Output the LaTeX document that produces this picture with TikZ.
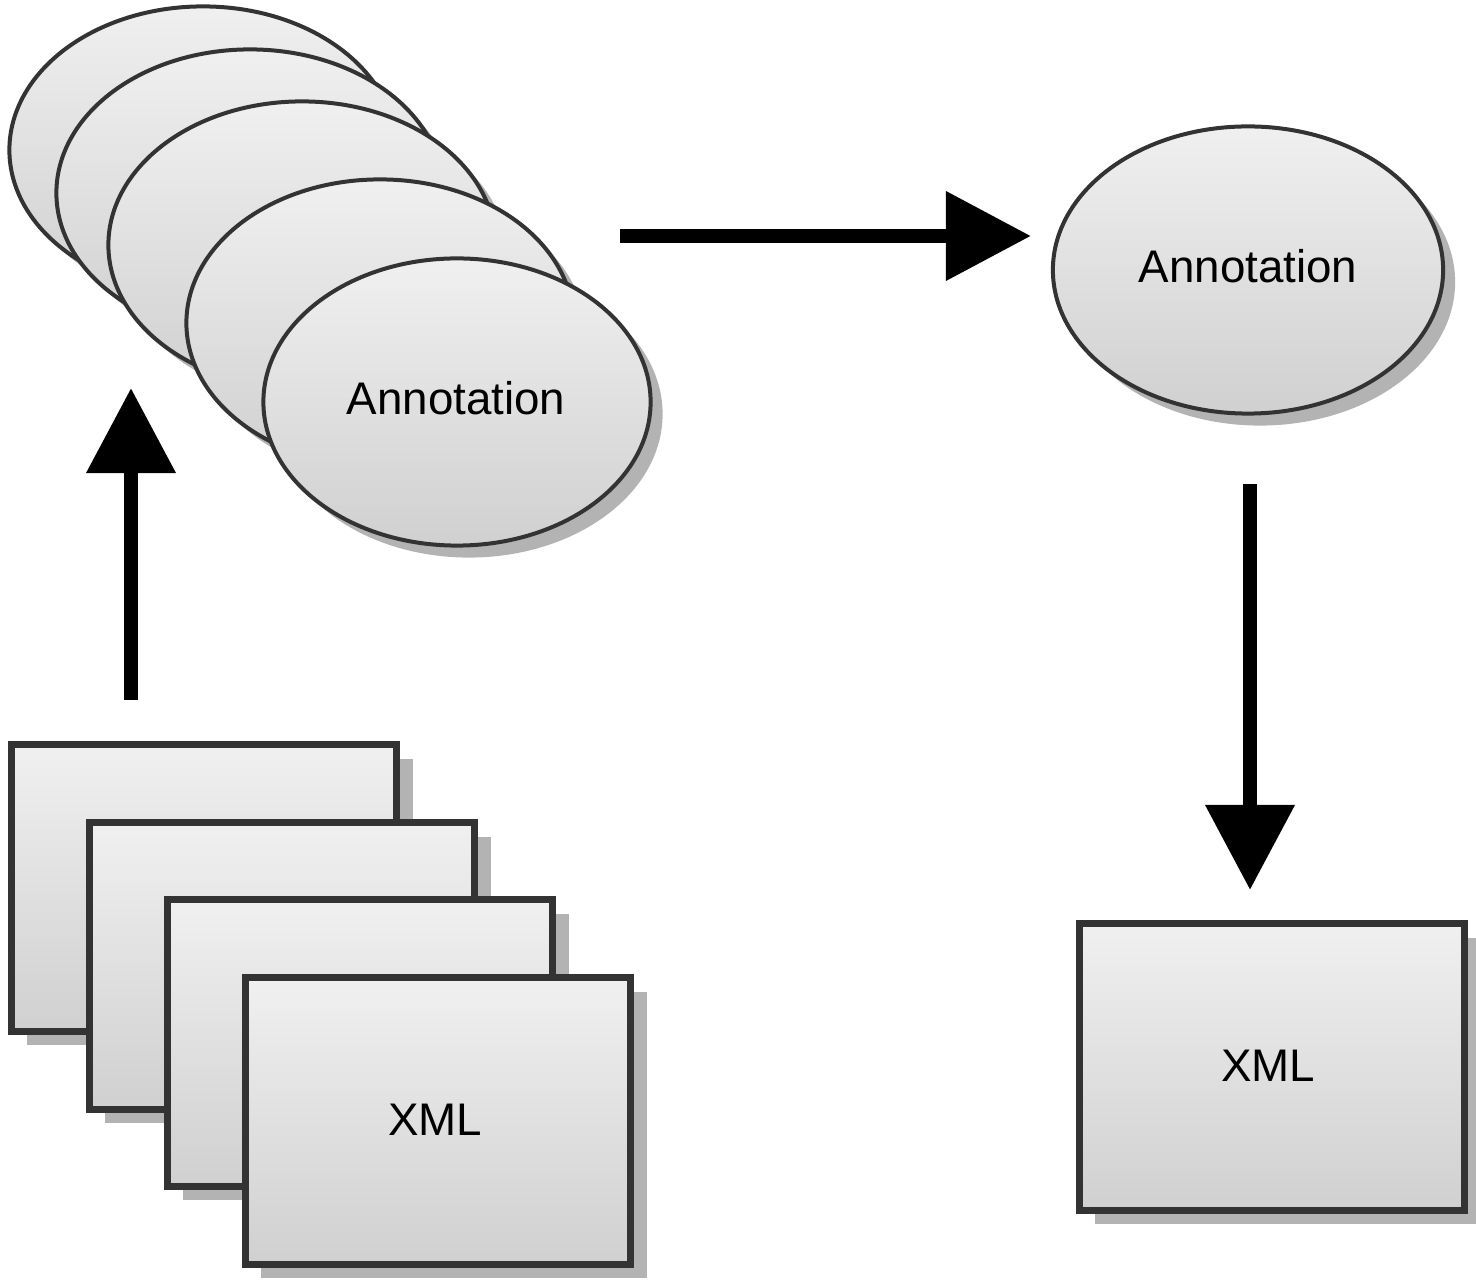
\documentclass[tikz,border=0pt]{standalone}
\usepackage{fontspec}
\setmainfont{Liberation Sans}
\usetikzlibrary{arrows.meta,shapes.geometric,shadows}
\definecolor{topc}{HTML}{F0F0F0}
\definecolor{botc}{HTML}{D0D0D0}
\definecolor{edge}{HTML}{333333}
\definecolor{shad}{HTML}{B3B3B3}
\begin{document}
\begin{tikzpicture}[x=0.01cm,y=-0.01cm,
  every node/.style={font=\fontsize{13}{15}\selectfont, text=black},
  annot/.style={ellipse, draw=edge, line width=0.04cm, top color=topc, bottom color=botc,
    minimum width=3.87cm, minimum height=2.87cm, inner sep=0pt,
    drop shadow={shadow xshift=0.12cm, shadow yshift=-0.12cm, fill=shad, opacity=1}},
  xmlbox/.style={rectangle, draw=edge, line width=0.07cm, top color=topc, bottom color=botc,
    minimum width=3.85cm, minimum height=2.86cm, inner sep=0pt,
    drop shadow={shadow xshift=0.16cm, shadow yshift=-0.14cm, fill=shad, opacity=1}},
  bigarrow/.style={line width=0.14cm, -{Triangle[length=0.85cm, width=0.86cm]}}]
\useasboundingbox (0,0) rectangle (1476,1283);

% stacked annotations
\node[annot] (e1) at (203,150) {};
\node[annot] (e2) at (250,193) {};
\node[annot] (e3) at (302,245) {};
\node[annot] (e4) at (380,323) {};
\node[annot] (e5) at (457,402) {};
\node (t5) at (456,398) {Annotation};

% single annotation
\node[annot, minimum width=3.9cm] (ea) at (1248,270) {};
\node (ta) at (1248,266) {Annotation};

% stacked XML
\node[xmlbox] (r1) at (204,888) {};
\node[xmlbox] (r2) at (282,966) {};
\node[xmlbox] (r3) at (360,1043) {};
\node[xmlbox] (r4) at (438,1121) {};
\node (tr4) at (435,1120) {XML};

% single XML
\node[xmlbox] (rx) at (1272,1067) {};
\node (trx) at (1268,1066) {XML};

% arrows
\coordinate (up0) at (131,700);
\coordinate (up1) at (131,388);
\coordinate (h0) at (620,236);
\coordinate (h1) at (1031,236);
\coordinate (d0) at (1250,484);
\coordinate (d1) at (1250,890);
\draw[bigarrow] (up0) -- (up1);
\draw[bigarrow] (h0) -- (h1);
\draw[bigarrow] (d0) -- (d1);
\end{tikzpicture}
\end{document}
